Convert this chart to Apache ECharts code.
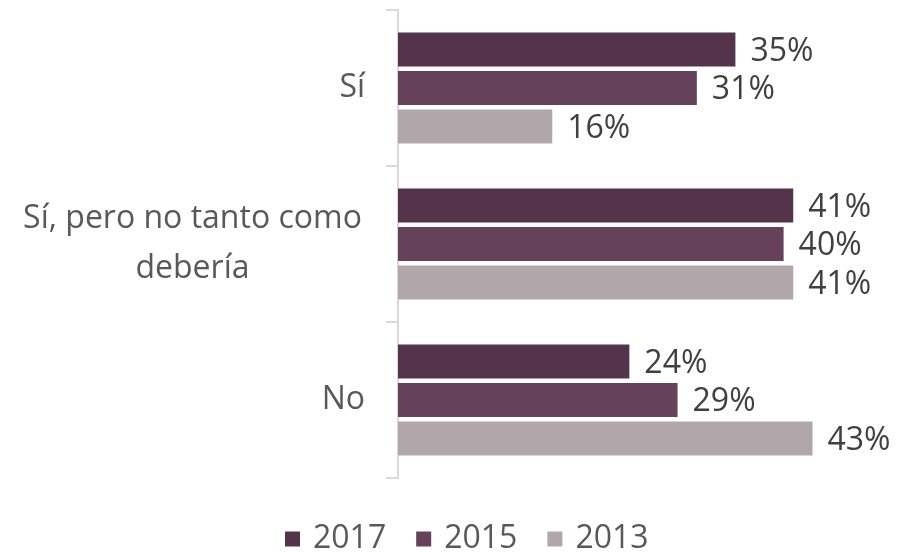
<!DOCTYPE html>
<html>
<head>
<meta charset="utf-8">
<script src="https://cdn.jsdelivr.net/npm/echarts@6/dist/echarts.min.js"></script>
<style>
html,body{margin:0;padding:0;background:#fff;}
#chart{width:899px;height:553px;}
</style>
</head>
<body>
<div id="chart"></div>
<script>
var categories=["Sí","Sí, pero no tanto como\ndebería","No"];
var years=["2017","2015","2013"];
var values2017=[35,41,24];
var values2015=[31,40,29];
var values2013=[16,41,43];
var colors=["#54344a","#65425a","#b1a7ab"];

var myChart=echarts.init(document.getElementById("chart"));

function makeSeries(name,data,color){
    return {
        name:name,
        type:'bar',
        data:data,
        barWidth:34,
        barGap:'13%',
        itemStyle:{color:color},
        label:{
            show:true,
            position:'right',
            distance:15,
            formatter:'{c}%',
            color:'#404040',
            fontSize:32,
            fontFamily:'Open Sans',
            offset:[0,2]
        }
    };
}

var option={
    backgroundColor:'#fff',
    animation:false,
    textStyle:{fontFamily:'Open Sans'},
    grid:{left:398,right:19,top:10,bottom:75,containLabel:false},
    legend:{
        data:years,
        left:280,
        top:518,
        icon:'rect',
        itemWidth:15,
        itemHeight:15,
        itemGap:30,
        textStyle:{color:'#595959',fontSize:32,fontFamily:'Open Sans',padding:[0,0,0,8]}
    },
    xAxis:{
        type:'value',
        min:0,
        max:50,
        show:false
    },
    yAxis:{
        type:'category',
        inverse:true,
        data:categories,
        axisLine:{show:true,lineStyle:{color:'#d9d9d9',width:2}},
        axisTick:{show:true,length:12,lineStyle:{color:'#d9d9d9',width:2}},
        axisLabel:{
            margin:33,
            color:'#595959',
            fontSize:32,
            fontFamily:'Open Sans',
            lineHeight:50,
            formatter:function(v){
                if(v.indexOf('\n')>=0){
                    return v.split('\n').map(function(s){return '{c|'+s+'}';}).join('\n');
                }
                return v;
            },
            rich:{
                c:{width:345,align:'center',fontSize:32,color:'#595959',lineHeight:50,fontFamily:'Open Sans'}
            }
        }
    },
    series:[
        makeSeries(years[0],values2017,colors[0]),
        makeSeries(years[1],values2015,colors[1]),
        makeSeries(years[2],values2013,colors[2])
    ]
};

myChart.setOption(option);
</script>
</body>
</html>
